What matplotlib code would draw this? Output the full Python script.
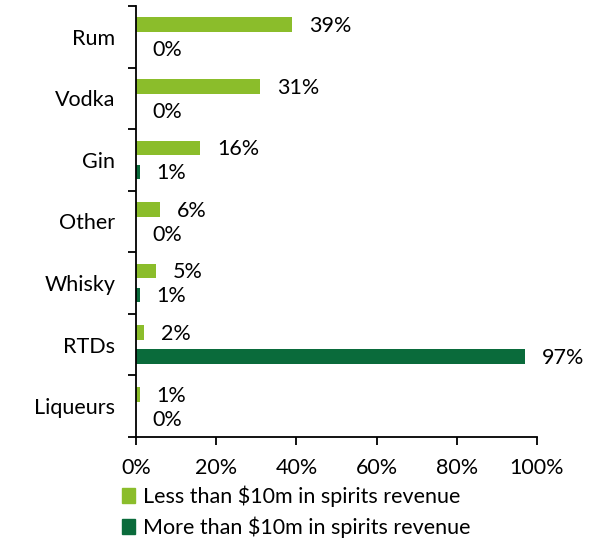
import matplotlib
matplotlib.use("Agg")
import matplotlib.pyplot as plt
from matplotlib.patches import Patch
from matplotlib.ticker import FuncFormatter

categories = ["Rum", "Vodka", "Gin", "Other", "Whisky", "RTDs", "Liqueurs"]
small_producers = [39, 31, 16, 6, 5, 2, 1]
large_producers = [0, 0, 1, 0, 1, 97, 0]
series_names = ["Less than $10m in spirits revenue",
                "More than $10m in spirits revenue"]
x_ticks = [0, 20, 40, 60, 80, 100]

light_green = "#8bbd2b"
dark_green = "#0a6b3b"

plt.rcParams["font.family"] = ["Lato", "DejaVu Sans"]
FS = 15.5

fig = plt.figure(figsize=(6.11, 5.42), dpi=100)
ax = fig.add_axes([0.2226, 0.1937, 0.6563, 0.7953])

pos = list(range(len(categories)))
bh = 0.24
off = 0.195
y_small = [p - off for p in pos]
y_large = [p + off for p in pos]

ax.barh(y_small, small_producers, height=bh, color=light_green)
ax.barh(y_large, large_producers, height=bh, color=dark_green)

for y, v in zip(y_small, small_producers):
    ax.annotate(f"{v}%", (v, y), xytext=(12, -1), textcoords="offset points",
                ha="left", va="center", fontsize=FS)
for y, v in zip(y_large, large_producers):
    ax.annotate(f"{v}%", (v, y), xytext=(12, -1), textcoords="offset points",
                ha="left", va="center", fontsize=FS)

ax.set_xlim(0, 100)
ax.set_ylim(len(categories) - 0.5, -0.5)
ax.set_xticks(x_ticks)
ax.xaxis.set_major_formatter(FuncFormatter(lambda v, _: f"{v:.0f}%"))
ax.set_yticks([p - 0.5 for p in pos] + [len(categories) - 0.5])
ax.set_yticklabels([])
ax.set_yticks(pos, minor=True)
ax.set_yticklabels(categories, minor=True, fontsize=FS)
ax.tick_params(axis="y", which="minor", length=0, pad=15)
ax.tick_params(axis="y", which="major", length=6, width=1.3, direction="out")
ax.tick_params(axis="x", length=6, width=1.3, direction="out", labelsize=FS, pad=9)

for s in ("top", "right"):
    ax.spines[s].set_visible(False)
for s in ("left", "bottom"):
    ax.spines[s].set_linewidth(1.3)

handles = [Patch(color=light_green), Patch(color=dark_green)]
fig.legend(handles, series_names, loc="upper left", bbox_to_anchor=(0.2, 0.105),
           frameon=False, fontsize=FS, handlelength=0.6, handleheight=0.7,
           handletextpad=0.35, labelspacing=0.45, borderaxespad=0, borderpad=0)

fig.savefig("out.png", dpi=100)
